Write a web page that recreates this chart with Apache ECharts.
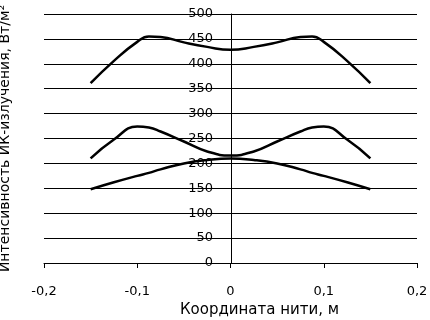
<!DOCTYPE html>
<html>
<head>
<meta charset="utf-8">
<script src="https://cdn.jsdelivr.net/npm/echarts@6/dist/echarts.min.js"></script>
<style>
  html, body { margin: 0; padding: 0; background: #fff; }
  #chart { width: 430px; height: 320px; }
</style>
</head>
<body>
<div id="chart"></div>
<script>
// координаты точек по нити, м
const xs = [-0.15, -0.125, -0.1, -0.0875, -0.075, -0.05, -0.025, 0,
            0.025, 0.05, 0.075, 0.0875, 0.1, 0.125, 0.15];

// интенсивность, Вт/м2
const upper  = [361, 406, 444, 455, 454, 443, 434, 428, 434, 443, 454, 455, 444, 406, 361];
const middle = [210, 248, 274, 272, 264, 244, 224, 216, 224, 244, 264, 272, 274, 248, 210];
const lower  = [148, 162, 175, 181, 188, 200, 207, 210, 207, 200, 188, 181, 175, 162, 148];

const font = 'DejaVu Sans';

function makeSeries(vals) {
    return {
        type: 'line',
        data: xs.map((x, i) => [x, vals[i]]),
        smooth: 0.5,
        showSymbol: false,
        lineStyle: { color: '#000', width: 2.5 }
    };
}

const chart = echarts.init(document.getElementById('chart'), null, { renderer: 'canvas' });

const option = {
    backgroundColor: '#fff',
    animation: false,
    grid: {
        left: 44, right: 13, top: 14, bottom: 57,
        containLabel: false,
        outerBoundsMode: 'none'
    },
    xAxis: {
        type: 'value',
        min: -0.2,
        max: 0.2,
        interval: 0.1,
        name: 'Координата нити, м',
        nameLocation: 'middle',
        nameGap: 37,
        nameTextStyle: {
            fontFamily: font, fontSize: 15, color: '#000',
            verticalAlign: 'middle', padding: [0, 0, 0, 58]
        },
        axisLine: { onZero: false, lineStyle: { color: '#000', width: 1 } },
        axisTick: { show: true, length: 5, lineStyle: { color: '#000' } },
        axisLabel: {
            fontFamily: font, fontSize: 13, color: '#000', margin: 22,
            formatter: v => Math.abs(v) < 1e-9 ? '0' : v.toFixed(1).replace('.', ',')
        },
        splitLine: { show: false }
    },
    yAxis: {
        type: 'value',
        min: 0,
        max: 500,
        interval: 50,
        // ось Y проходит через x = 0 (середина области построения)
        offset: -187,
        name: 'Интенсивность ИК-излучения, Вт/м²',
        nameLocation: 'middle',
        nameGap: 219,
        nameTextStyle: { fontFamily: font, fontSize: 14, color: '#000' },
        axisLine: { show: true, onZero: false, lineStyle: { color: '#000', width: 1 } },
        axisTick: { show: false },
        axisLabel: { fontFamily: font, fontSize: 13, color: '#000', margin: 18 },
        splitLine: { show: true, lineStyle: { color: '#000', width: 1 } }
    },
    series: [makeSeries(upper), makeSeries(middle), makeSeries(lower)]
};

chart.setOption(option);
</script>
</body>
</html>
